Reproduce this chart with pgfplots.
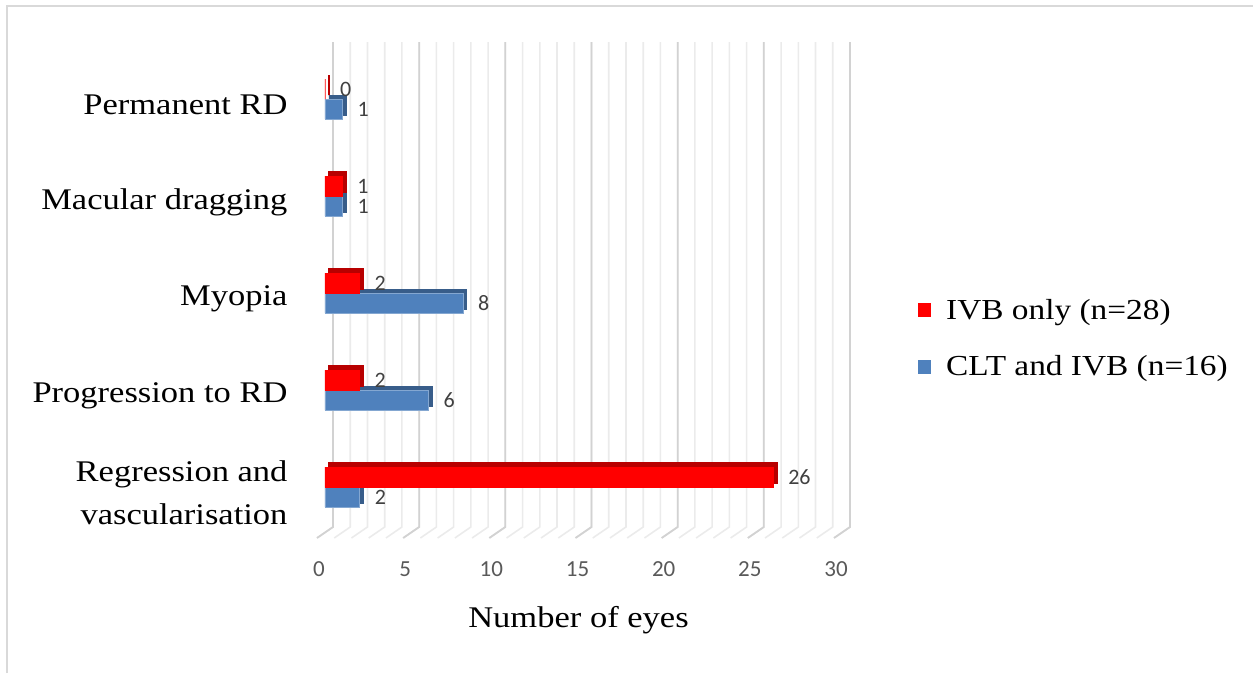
\documentclass[border=0pt]{standalone}
\usepackage{fontspec}
\setmainfont[FakeStretch=1.15]{Liberation Serif}
\newfontfamily\calib{Carlito}
\usepackage{pgfplots}
\pgfplotsset{compat=1.18}
\definecolor{ivbred}{HTML}{FF0000}
\definecolor{ivbdark}{HTML}{B80000}
\definecolor{cltblue}{HTML}{4F81BD}
\definecolor{cltdark}{HTML}{385D8A}
\definecolor{gmaj}{HTML}{D2D2D2}
\definecolor{gmin}{HTML}{EBEBEB}
\definecolor{framecol}{HTML}{D9D9D9}
\definecolor{textgrey}{HTML}{404040}
\definecolor{tickgrey}{HTML}{595959}
\begin{document}
\begin{tikzpicture}[x=1pt,y=1pt]
\useasboundingbox (0,0) rectangle (1253,673);
\draw[framecol, line width=2pt] (7,0) -- (7,667) -- (1253,667);
\begin{axis}[
  at={(325pt,146pt)}, anchor=south west, scale only axis,
  width=517pt, height=485pt,
  xmin=0, xmax=30, ymin=-0.41, ymax=4.59,
  xbar, bar width=20pt,
  clip=false,
  axis line style={draw=none},
  major tick length=0pt,
  tick style={draw=none},
  /pgf/number format/assume math mode=true,
  xtick={0,5,...,30},
  xticklabel style={font=\calib\fontsize{23}{27}\selectfont, text=tickgrey, anchor=center, yshift=-42pt, xshift=-6pt},
  ytick={0,1,2,3,4},
  yticklabels={{Regression and\\vascularisation},{Progression to RD},{Myopia},{Macular dragging},{Permanent RD}},
  yticklabel style={font=\fontsize{30}{43}\selectfont, align=right, anchor=east, xshift=-34pt, yshift=-6pt},
  xlabel={Number of eyes},
  xlabel style={font=\fontsize{30}{36}\selectfont, at={(axis description cs:0.5,0)}, anchor=center, yshift=-93pt, xshift=-5pt},
  legend style={draw=none, fill=none, at={(1.147,0.389)}, anchor=west, font=\fontsize{29}{35}\selectfont, row sep=31pt, inner xsep=0pt,
    /tikz/every odd column/.append style={column sep=13pt}},
  legend cell align=left,
  legend image code/.code={\fill[#1,draw=none] (0pt,-7pt) rectangle (13pt,7pt);},
  reverse legend,
  lbl/.style={nodes near coords, every node near coord/.append style={font=\calib\fontsize{22}{26}\selectfont, text=textgrey, anchor=west, xshift=15pt, inner sep=0pt}},
]
\pgfplotsinvokeforeach{0,...,30}{
  \draw[gmin, line width=1.6pt] ([xshift=8pt]axis cs:#1,4.59) -- ([xshift=8pt]axis cs:#1,-0.41) -- ([xshift=-8pt,yshift=-11pt]axis cs:#1,-0.41);
}
\pgfplotsinvokeforeach{0,5,...,30}{
  \draw[gmaj, line width=1.8pt] ([xshift=8pt]axis cs:#1,4.59) -- ([xshift=8pt]axis cs:#1,-0.41) -- ([xshift=-8pt,yshift=-11pt]axis cs:#1,-0.41);
}
% CLT and IVB (n=16): depth then front
\addplot[forget plot, bar shift=-10pt, fill=cltdark, draw=cltdark, line width=0.8pt, xshift=4pt, yshift=4pt] coordinates {(2,0) (6,1) (8,2) (1,3) (1,4)};
\addplot[lbl, bar shift=-10pt, fill=cltblue, draw=cltblue!70!white, line width=0.6pt] coordinates {(2,0) (6,1) (8,2) (1,3) (1,4)};
% IVB only (n=28)
\addplot[forget plot, bar shift=10pt, fill=ivbdark, draw=ivbdark, line width=1.6pt, xshift=4pt, yshift=4pt] coordinates {(26,0) (2,1) (2,2) (1,3) (0,4)};
\addplot[lbl, bar shift=10pt, fill=ivbred, draw=ivbred] coordinates {(26,0) (2,1) (2,2) (1,3) (0,4)};
\legend{CLT and IVB (n=16), IVB only (n=28)}
\end{axis}
\end{tikzpicture}
\end{document}
